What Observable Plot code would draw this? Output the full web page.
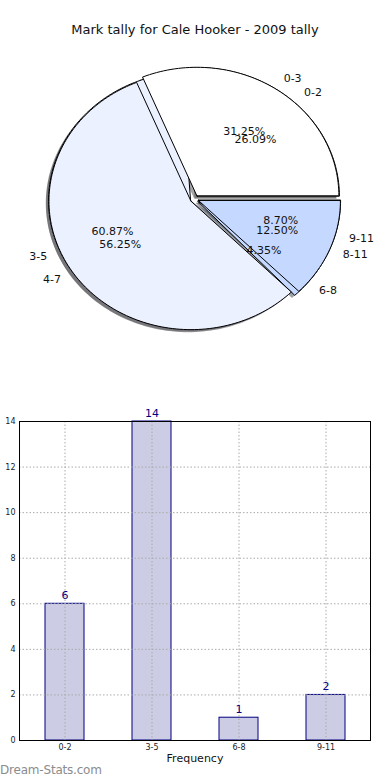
<!DOCTYPE html>
<html><head><meta charset="utf-8">
<script src="https://cdn.jsdelivr.net/npm/d3@7"></script>
<script src="https://cdn.jsdelivr.net/npm/@observablehq/plot@0.6"></script>
<style>
body{margin:0;background:#fff;font-family:"DejaVu Sans",sans-serif;}
#wrap{position:relative;width:390px;height:780px;overflow:hidden;background:#fff;}
#title{position:absolute;top:22px;left:0;width:390px;text-align:center;font-size:13px;color:#111;}
#pie{position:absolute;top:0;left:0;}
#bar{position:absolute;top:400px;left:0;}
#wm{position:absolute;left:0;top:763px;font-size:12px;color:#8c8c8c;letter-spacing:-0.2px;}
svg{font-family:"DejaVu Sans",sans-serif;}
</style></head><body>
<div id="wrap"><div id="pie"></div><div id="bar"></div><div id="title"></div><div id="wm"></div></div>
<script>
const chartTitle = "Mark tally for Cale Hooker - 2009 tally";
const watermark = "Dream-Stats.com";
const seriesBLabels = ["0-2", "3-5", "6-8", "9-11"];
const seriesBValues = [6, 14, 1, 2];
const seriesALabels = ["0-3", "4-7", "8-11"];
const seriesAValues = [5, 9, 2];
const barCategories = ["0-2", "3-5", "6-8", "9-11"];
const barValues = [6, 14, 1, 2];
const yTicks = [0, 2, 4, 6, 8, 10, 12, 14];
const xLabel = "Frequency";
const yLabel = "Number of Games";
const wedgeColors = ["#ffffff", "#ebf1ff", "#c5d8ff"];

document.getElementById("title").textContent = chartTitle;
document.getElementById("wm").textContent = watermark;

const EXPLODE = 0.03;
function wedges(series, labels, values) {
  const total = d3.sum(values);
  let a = 0;
  return labels.map((lab, i) => {
    const frac = values[i] / total;
    const a0 = a, a1 = a + frac * 360; a = a1;
    const am = (a0 + a1) / 2 * Math.PI / 180;
    return {series, label: lab, frac, a0, a1, am,
      ex: EXPLODE * Math.cos(am), ey: EXPLODE * Math.sin(am),
      color: wedgeColors[i % wedgeColors.length]};
  });
}
function polygon(w, dx, dy, color) {
  const id = w.series + w.label;
  const pts = [{x: w.ex + dx, y: w.ey + dy}];
  const n = Math.max(2, Math.ceil((w.a1 - w.a0) / 1.5));
  for (let k = 0; k <= n; k++) {
    const t = (w.a0 + (w.a1 - w.a0) * k / n) * Math.PI / 180;
    pts.push({x: w.ex + dx + Math.cos(t), y: w.ey + dy + Math.sin(t)});
  }
  pts.push({...pts[0]});
  return pts.map(p => ({...p, id, color}));
}
const wB = wedges("B", seriesBLabels, seriesBValues);
const wA = wedges("A", seriesALabels, seriesAValues);
const shadowColor = c => { const r = d3.rgb(c); return d3.rgb(r.r * 0.3, r.g * 0.3, r.b * 0.3).formatHex(); };
const shadows = [...wB, ...wA].flatMap(w => polygon(w, -0.02, -0.02, shadowColor(w.color)));
const polyB = wB.flatMap(w => polygon(w, 0, 0, w.color));
const polyA = wA.flatMap(w => polygon(w, 0, 0, w.color));
const fmt = d3.format(".2f");
const labelRows = [...wB, ...wA].map(w => ({
  text: w.label,
  x: (EXPLODE + 1.1) * Math.cos(w.am), y: (EXPLODE + 1.1) * Math.sin(w.am),
  right: Math.cos(w.am) > 0
}));
const pctRows = [...wB, ...wA].map(w => ({
  text: fmt(w.frac * 100) + "%",
  x: (EXPLODE + 0.6) * Math.cos(w.am), y: (EXPLODE + 0.6) * Math.sin(w.am)
}));

const W = 390, H = 395, cx = 194, cy = 198.5, rx = 142, ry = 128.5;
const pie = Plot.plot({
  width: W, height: H, margin: 0,
  x: {domain: [-cx / rx, (W - cx) / rx], range: [0, W], axis: null},
  y: {domain: [-(H - cy) / ry, cy / ry], range: [H, 0], axis: null},
  color: {type: "identity"},
  marks: [
    Plot.line(shadows, {x: "x", y: "y", z: "id", fill: "color", fillOpacity: 0.5, stroke: "none", curve: "linear"}),
    Plot.line(polyB, {x: "x", y: "y", z: "id", fill: "color", stroke: "black", strokeWidth: 1, curve: "linear", strokeLinejoin: "miter"}),
    Plot.line(polyA, {x: "x", y: "y", z: "id", fill: "color", stroke: "black", strokeWidth: 1, curve: "linear", strokeLinejoin: "miter"}),
    Plot.text(labelRows.filter(d => d.right), {x: "x", y: "y", text: "text", textAnchor: "start", fontSize: 11, fill: "#111"}),
    Plot.text(labelRows.filter(d => !d.right), {x: "x", y: "y", text: "text", textAnchor: "end", fontSize: 11, fill: "#111"}),
    Plot.text(pctRows, {x: "x", y: "y", text: "text", fontSize: 11, fill: "#111"})
  ]
});
document.getElementById("pie").appendChild(pie);

const barData = barCategories.map((c, i) => ({cat: c, value: barValues[i]}));
const gridStyle = {stroke: "#aaaaaa", strokeOpacity: 1, strokeDasharray: "1.5,2"};
const bar = Plot.plot({
  width: 390, height: 380, marginTop: 21, marginBottom: 40, marginLeft: 19, marginRight: 20,
  x: {domain: barCategories, paddingInner: 0.555, paddingOuter: 0.2775},
  y: {domain: [0, 14]},
  marks: [
    Plot.barY(barData, {x: "cat", y: "value", fill: "#ccccE4", stroke: "#000080", strokeWidth: 1}),
    Plot.gridY(yTicks, gridStyle),
    Plot.gridX(gridStyle),
    Plot.text(barData, {x: "cat", y: "value", text: d => String(d.value), dy: -8, fill: "#000080", fontSize: 11}),
    Plot.frame({stroke: "black", strokeWidth: 1}),
    Plot.axisY(yTicks, {tickSize: 0, tickPadding: 4, fontSize: 8, label: null, fill: "#222"}),
    Plot.axisX({tickSize: 0, tickPadding: 4, fontSize: 8, label: null, fill: "#222"}),
    Plot.text([xLabel], {frameAnchor: "bottom", dy: 21, fontSize: 11, fill: "#111"}),
    Plot.text([yLabel], {frameAnchor: "left", dx: -23, rotate: -90, fontSize: 9, fill: "#222"})
  ]
});
document.getElementById("bar").appendChild(bar);
</script>
</body></html>
